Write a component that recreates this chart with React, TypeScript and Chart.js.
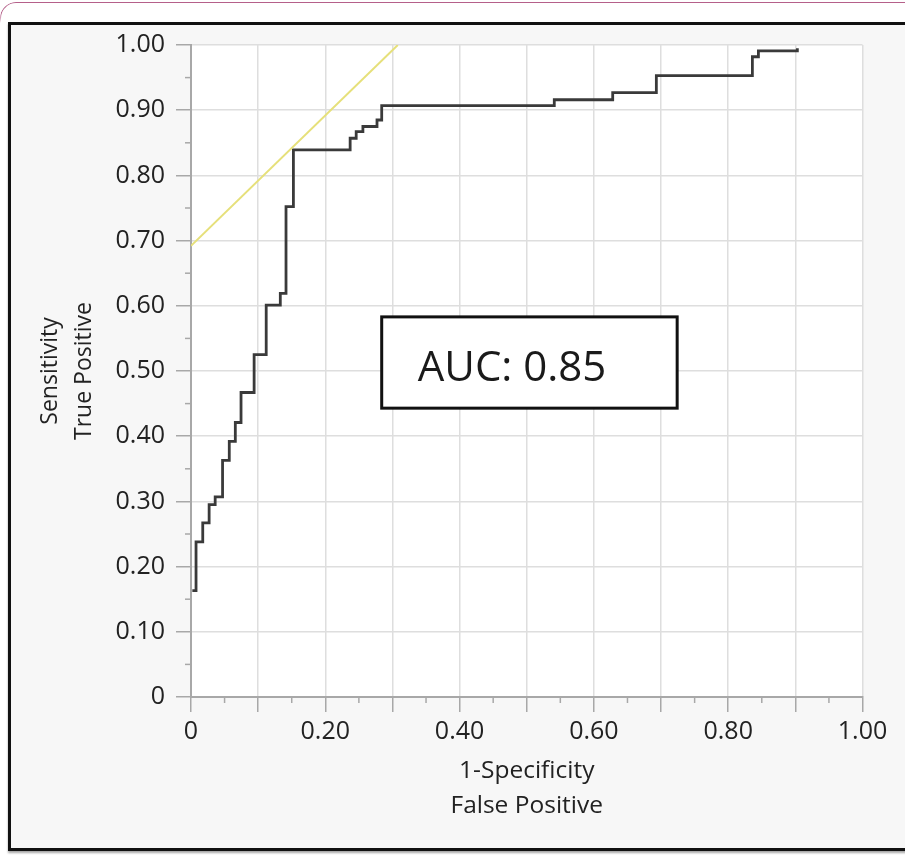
import React, { useEffect, useRef } from 'react';
import { Chart, registerables } from 'chart.js';

Chart.register(...registerables);

// ROC curve vertices (1-Specificity, Sensitivity)
const fpr = [0.002, 0.0075, 0.0175, 0.027, 0.036, 0.047, 0.057, 0.066, 0.0745, 0.094, 0.112, 0.133, 0.1415, 0.1525, 0.237, 0.246, 0.256, 0.277, 0.284, 0.541, 0.628, 0.693, 0.836, 0.845, 0.903];
const tpr = [0.163, 0.238, 0.267, 0.295, 0.307, 0.363, 0.392, 0.421, 0.467, 0.525, 0.601, 0.619, 0.752, 0.839, 0.857, 0.867, 0.875, 0.885, 0.907, 0.916, 0.927, 0.953, 0.982, 0.991, 0.995];

// Reference (yellow) line
const refFpr = [0, 0.308];
const refTpr = [0.692, 1.0];

const xTitle = ['1-Specificity', 'False Positive'];
const yTitle = ['Sensitivity', 'True Positive'];
const aucText = 'AUC: 0.85';
// AUC box corners in data units
const aucBoxX = [0.284, 0.724];
const aucBoxY = [0.583, 0.443];

const FONT = '"Open Sans", "Noto Sans", sans-serif';

const bgPlugin = {
  id: 'bgPlugin',
  beforeDraw(chart: any) {
    const { ctx, chartArea: a } = chart;
    ctx.save();
    ctx.fillStyle = '#ffffff';
    ctx.fillRect(a.left, a.top, a.right - a.left, a.bottom - a.top);
    ctx.restore();
  },
};

const minorTicks = {
  id: 'minorTicks',
  afterDraw(chart: any) {
    const { ctx, scales } = chart;
    const xs = scales.x;
    const ys = scales.y;
    ctx.save();
    ctx.strokeStyle = '#a8a8a8';
    ctx.lineWidth = 1.5;
    for (let i = 0; i < 10; i++) {
      const v = 0.05 + i * 0.1;
      const px = xs.getPixelForValue(v);
      ctx.beginPath();
      ctx.moveTo(px, xs.top);
      ctx.lineTo(px, xs.top + 6);
      ctx.stroke();
      const py = ys.getPixelForValue(v);
      ctx.beginPath();
      ctx.moveTo(ys.right - 6, py);
      ctx.lineTo(ys.right, py);
      ctx.stroke();
    }
    ctx.restore();
  },
};

const aucBox = {
  id: 'aucBox',
  afterDatasetsDraw(chart: any) {
    const { ctx, scales } = chart;
    const x0 = scales.x.getPixelForValue(aucBoxX[0]);
    const x1 = scales.x.getPixelForValue(aucBoxX[1]);
    const y0 = scales.y.getPixelForValue(aucBoxY[0]);
    const y1 = scales.y.getPixelForValue(aucBoxY[1]);
    ctx.save();
    ctx.fillStyle = '#ffffff';
    ctx.fillRect(x0, y0, x1 - x0, y1 - y0);
    ctx.strokeStyle = '#111111';
    ctx.lineWidth = 3;
    ctx.strokeRect(x0, y0, x1 - x0, y1 - y0);
    ctx.fillStyle = '#1a1a1a';
    ctx.font = `42px ${FONT}`;
    ctx.textBaseline = 'alphabetic';
    ctx.textAlign = 'left';
    ctx.fillText(aucText, x0 + 36, y1 - 27);
    ctx.restore();
  },
};

export default function App() {
  const ref = useRef<HTMLCanvasElement>(null);

  useEffect(() => {
    if (!ref.current) return;
    const chart = new Chart(ref.current, {
      type: 'line',
      data: {
        datasets: [
          {
            label: 'Reference',
            data: refFpr.map((x, i) => ({ x, y: refTpr[i] })),
            borderColor: '#e6e07a',
            borderWidth: 2,
            pointRadius: 0,
            fill: false,
          },
          {
            label: 'ROC',
            data: fpr.map((x, i) => ({ x, y: tpr[i] })),
            borderColor: '#3a3a3a',
            borderWidth: 2.8,
            pointRadius: 0,
            stepped: 'before',
            fill: false,
          },
        ],
      },
      options: {
        animation: false,
        responsive: false,
        devicePixelRatio: 1,
        layout: { padding: { left: 0, top: 45, right: 42.5, bottom: 0 } },
        plugins: {
          legend: { display: false },
          tooltip: { enabled: false },
        },
        scales: {
          x: {
            type: 'linear',
            min: 0,
            max: 1,
            afterFit(scale: any) {
              scale.height = 169;
            },
            ticks: {
              stepSize: 0.1,
              autoSkip: false,
              maxRotation: 0,
              padding: 5,
              color: '#222222',
              font: { family: FONT, size: 25 },
              callback(value: any, index: number) {
                if (index % 2 !== 0) return '';
                const v = Number(value);
                return v === 0 ? '0' : v.toFixed(2);
              },
            },
            grid: {
              color: '#dedede',
              lineWidth: 1.5,
              tickColor: '#a8a8a8',
              tickLength: 15,
              tickWidth: 1.5,
            },
            border: { color: '#a8a8a8', width: 2 },
            title: {
              display: true,
              text: xTitle,
              color: '#222222',
              font: { family: FONT, size: 24.5, lineHeight: 1.43 },
              padding: { top: 0, bottom: 42.5 },
            },
          },
          y: {
            type: 'linear',
            min: 0,
            max: 1,
            afterFit(scale: any) {
              scale.width = 191;
            },
            ticks: {
              stepSize: 0.1,
              autoSkip: false,
              padding: 11,
              color: '#222222',
              font: { family: FONT, size: 25 },
              callback(value: any) {
                const v = Number(value);
                return v === 0 ? '0' : v.toFixed(2);
              },
            },
            grid: {
              color: '#dedede',
              lineWidth: 1.5,
              tickColor: '#a8a8a8',
              tickLength: 15,
              tickWidth: 1.5,
            },
            border: { color: '#a8a8a8', width: 2 },
            title: {
              display: true,
              text: yTitle,
              color: '#222222',
              font: { family: FONT, size: 23, lineHeight: 1.52 },
              padding: { top: 32.5, bottom: 0 },
            },
          },
        },
      },
      plugins: [bgPlugin, minorTicks, aucBox],
    } as any);
    return () => chart.destroy();
  }, []);

  return (
    <div
      style={{
        position: 'fixed',
        left: 0,
        top: 0,
        width: 905,
        height: 866,
        overflow: 'hidden',
        background: '#ffffff',
      }}
    >
      <div
        style={{
          position: 'absolute',
          left: 0,
          top: 2,
          width: 930,
          height: 30,
          borderTop: '1.5px solid #b5608a',
          borderLeft: '1.5px solid #b5608a',
          borderTopLeftRadius: 16,
          boxSizing: 'border-box',
          WebkitMaskImage: 'linear-gradient(to bottom, #000 40%, transparent 70%)',
        }}
      />
      <div
        style={{
          position: 'absolute',
          left: 8,
          top: 22,
          width: 910,
          height: 829,
          boxSizing: 'border-box',
          border: '3px solid #111111',
          background: '#f7f7f7',
          boxShadow: '0 2px 2px rgba(0,0,0,0.35)',
        }}
      />
      <canvas
        ref={ref}
        width={905}
        height={866}
        style={{ position: 'absolute', left: 0, top: 0, width: 905, height: 866 }}
      />
    </div>
  );
}
